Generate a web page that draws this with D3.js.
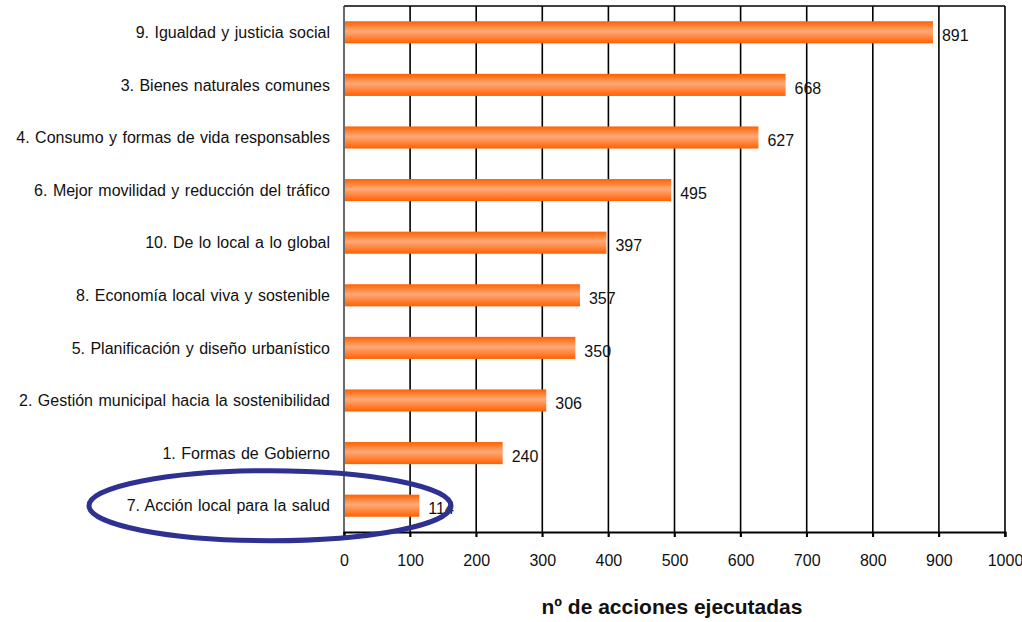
<!DOCTYPE html>
<html><head><meta charset="utf-8">
<script src="https://cdn.jsdelivr.net/npm/d3@7"></script>
<style>body{margin:0;background:#fff}svg{display:block}text{font-family:"Liberation Sans",Arial,sans-serif}</style>
</head><body><svg id="c" width="1022" height="622"></svg>
<script>
const categories = ["9. Igualdad y justicia social","3. Bienes naturales comunes","4. Consumo y formas de vida responsables","6. Mejor movilidad y reducción del tráfico","10. De lo local a lo global","8. Economía local viva y sostenible","5. Planificación y diseño urbanístico","2. Gestión municipal hacia la sostenibilidad","1. Formas de Gobierno","7. Acción local para la salud"];
const values = [891,668,627,495,397,357,350,306,240,114];
const ticks = [0,100,200,300,400,500,600,700,800,900,1000];
const axisTitle = "nº de acciones ejecutadas";

const svg = d3.select("#c");
const m = {l:344, r:1005, t:6, b:532};
const x = d3.scaleLinear().domain([0,1000]).range([m.l,m.r]);
const y = d3.scaleBand().domain(categories).range([m.t,m.b]).paddingInner(0.58).paddingOuter(0.29);

const defs = svg.append("defs");
const g = defs.append("linearGradient").attr("id","bg").attr("x1",0).attr("y1",0).attr("x2",0).attr("y2",1);
g.append("stop").attr("offset","0%").attr("stop-color","#ff6000");
g.append("stop").attr("offset","45%").attr("stop-color","#ffaa78");
g.append("stop").attr("offset","100%").attr("stop-color","#ff6000");

// gridlines
svg.append("g").selectAll("line").data(ticks.slice(1)).join("line")
  .attr("x1",d=>x(d)).attr("x2",d=>x(d)).attr("y1",m.t).attr("y2",m.b+5)
  .attr("stroke","#000").attr("stroke-width",1.6);
// top border
svg.append("line").attr("x1",m.l).attr("x2",m.r).attr("y1",m.t).attr("y2",m.t).attr("stroke","#000").attr("stroke-width",1.6);
// left axis
svg.append("line").attr("x1",m.l).attr("x2",m.l).attr("y1",m.t).attr("y2",m.b+5).attr("stroke","#444").attr("stroke-width",1.6);

// bars
svg.append("g").selectAll("rect").data(values).join("rect")
  .attr("x",x(0)+1).attr("y",(d,i)=>y(categories[i]))
  .attr("width",d=>x(d)-x(0)-1).attr("height",y.bandwidth())
  .attr("fill","url(#bg)");

// bottom axis
const ax = d3.axisBottom(x).tickValues(ticks).tickSize(5).tickPadding(18).tickFormat(d3.format("d"));
const axg = svg.append("g").attr("transform",`translate(0,${m.b})`).call(ax);
axg.select(".domain").attr("stroke","#000").attr("stroke-width",2.2);
axg.selectAll(".tick line").attr("stroke","#000").attr("stroke-width",1.6);
axg.selectAll(".tick text").attr("font-size",16).attr("fill","#111").attr("font-family","Liberation Sans, Arial, sans-serif");

// category labels
svg.append("g").selectAll("text").data(categories).join("text")
  .attr("x",330).attr("y",d=>y(d)+y.bandwidth()/2).attr("dy","0.35em")
  .attr("text-anchor","end").attr("font-size",16).attr("word-spacing",1).attr("fill","#111").text(d=>d);

// value labels
svg.append("g").selectAll("text").data(values).join("text")
  .attr("x",d=>x(d)+9).attr("y",(d,i)=>y(categories[i])+y.bandwidth()/2+3).attr("dy","0.35em")
  .attr("font-size",16).attr("fill","#111").text(d=>d);

// axis title
svg.append("text").attr("x",672).attr("y",614).attr("text-anchor","middle")
  .attr("font-size",21).attr("font-weight","bold").attr("fill","#111").text(axisTitle);

// highlight ellipse
svg.append("ellipse").attr("cx",270).attr("cy",y(categories[9])+y.bandwidth()/2).attr("rx",181).attr("ry",35)
  .attr("fill","none").attr("stroke","#2e3192").attr("stroke-width",5);
</script></body></html>
